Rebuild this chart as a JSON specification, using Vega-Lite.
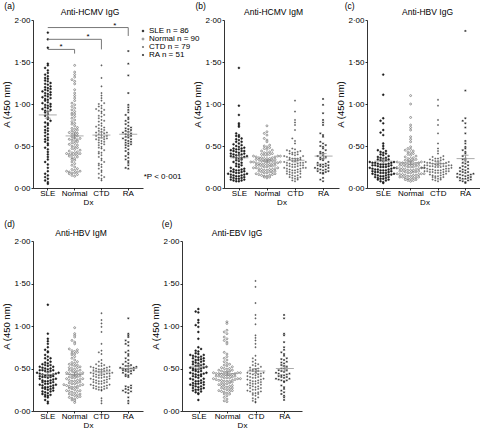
{
"$schema":"https://vega.github.io/schema/vega-lite/v6.json",
"padding":{"left":1,"top":1,"right":0,"bottom":0},
"background":"white",
"config":{"font":"Liberation Sans","view":{"stroke":null},
"axis":{"labelFontSize":8,"titleFontSize":8,"titleFontWeight":"normal","tickSize":2,"domainColor":"#000","tickColor":"#000","labelColor":"#000","titleColor":"#000","grid":false,"labelPadding":1,"domainWidth":0.8,"tickWidth":0.8},
"axisX":{"labelAngle":0,"titlePadding":1,"labelPadding":-1},
"axisY":{"titlePadding":2,"titleFontSize":9.5},
"text":{"font":"Liberation Sans","fontSize":8.5,"color":"#000"}},
"datasets":{
"pts":[
{"p":"a","g":"SLE","v":[1.85,1.77,1.67,1.48,1.46,1.43,1.40,1.37,1.35,1.33,1.31,1.30,1.28,1.27,1.25,1.24,1.23,1.21,1.20,1.19,1.18,1.17,1.16,1.15,1.14,1.13,1.12,1.11,1.10,1.09,1.08,1.07,1.06,1.05,1.04,1.02,1.01,1.00,0.99,0.98,0.97,0.96,0.95,0.94,0.93,0.92,0.91,0.90,0.88,0.86,0.84,0.82,0.80,0.78,0.77,0.75,0.73,0.71,0.69,0.68,0.66,0.64,0.62,0.60,0.58,0.57,0.55,0.53,0.51,0.48,0.46,0.43,0.40,0.37,0.34,0.31,0.28,0.24,0.20,0.17,0.15,0.13,0.11,0.09,0.07,0.05]},
{"p":"a","g":"Normal","v":[1.46,1.38,1.35,1.32,1.29,1.27,1.17,1.10,1.07,1.04,1.01,0.99,0.91,0.89,0.87,0.85,0.83,0.79,0.77,0.74,0.72,0.70,0.69,0.67,0.66,0.65,0.64,0.63,0.62,0.61,0.60,0.59,0.58,0.57,0.57,0.56,0.55,0.54,0.53,0.52,0.51,0.50,0.49,0.48,0.47,0.46,0.45,0.44,0.43,0.42,0.42,0.41,0.41,0.40,0.40,0.39,0.39,0.38,0.37,0.36,0.35,0.34,0.33,0.31,0.29,0.27,0.25,0.23,0.22,0.21,0.20,0.20,0.19,0.19,0.18,0.18,0.17,0.16,0.15,0.14,0.95,0.93,0.81,0.76,1.24,1.13,0.97,0.88,0.71,0.68]},
{"p":"a","g":"CTD","v":[1.46,1.31,1.21,1.13,1.10,1.07,1.04,1.01,0.98,0.95,0.93,0.91,0.89,0.87,0.85,0.83,0.81,0.79,0.77,0.75,0.73,0.71,0.70,0.69,0.68,0.67,0.66,0.65,0.64,0.63,0.62,0.61,0.60,0.59,0.58,0.57,0.56,0.55,0.54,0.52,0.51,0.49,0.47,0.45,0.43,0.41,0.39,0.37,0.35,0.33,0.31,0.29,0.27,0.25,0.23,0.21,0.19,0.17,0.15,0.13,0.11,0.09,0.66,0.62,0.58,0.72,0.86,0.94,1.00,0.48,0.80,0.92,0.97,0.74,0.53,0.60,0.42,0.28,0.12]},
{"p":"a","g":"RA","v":[1.63,1.48,1.34,1.13,0.99,0.96,0.93,0.90,0.87,0.84,0.82,0.80,0.78,0.76,0.74,0.72,0.71,0.70,0.69,0.68,0.67,0.66,0.65,0.64,0.63,0.62,0.61,0.60,0.59,0.58,0.57,0.56,0.55,0.54,0.53,0.52,0.51,0.50,0.48,0.46,0.44,0.42,0.40,0.38,0.36,0.34,0.32,0.30,0.27,0.24,0.23]},
{"p":"b","g":"SLE","v":[1.43,0.98,0.87,0.77,0.75,0.73,0.65,0.63,0.61,0.59,0.55,0.53,0.52,0.51,0.50,0.49,0.48,0.47,0.46,0.45,0.44,0.43,0.42,0.41,0.40,0.40,0.39,0.39,0.38,0.38,0.37,0.37,0.36,0.36,0.35,0.34,0.33,0.32,0.31,0.30,0.29,0.28,0.27,0.26,0.25,0.24,0.23,0.22,0.22,0.21,0.21,0.20,0.20,0.19,0.19,0.18,0.18,0.17,0.17,0.16,0.16,0.15,0.15,0.14,0.14,0.13,0.13,0.12,0.12,0.11,0.11,0.10,0.10,0.09,0.09,0.08,0.08,0.47,0.44,0.41,0.55,0.57,0.46,0.44,0.62,0.58]},
{"p":"b","g":"Normal","v":[0.74,0.67,0.65,0.63,0.59,0.57,0.55,0.51,0.50,0.49,0.48,0.47,0.46,0.45,0.44,0.43,0.42,0.42,0.41,0.40,0.40,0.39,0.39,0.38,0.38,0.37,0.37,0.36,0.36,0.35,0.35,0.34,0.34,0.33,0.33,0.32,0.32,0.31,0.31,0.30,0.30,0.29,0.29,0.28,0.28,0.27,0.27,0.26,0.26,0.25,0.25,0.24,0.24,0.23,0.23,0.22,0.22,0.21,0.21,0.20,0.20,0.19,0.19,0.18,0.18,0.17,0.17,0.16,0.16,0.15,0.15,0.14,0.14,0.13,0.13,0.12,0.35,0.31,0.27,0.24,0.29,0.33,0.36,0.38,0.26,0.22,0.19,0.28,0.30,0.34]},
{"p":"b","g":"CTD","v":[1.04,0.91,0.81,0.78,0.75,0.69,0.59,0.56,0.53,0.47,0.46,0.45,0.44,0.43,0.42,0.41,0.40,0.39,0.38,0.37,0.36,0.35,0.35,0.34,0.33,0.32,0.31,0.30,0.30,0.29,0.28,0.27,0.27,0.26,0.25,0.24,0.24,0.23,0.22,0.21,0.21,0.20,0.19,0.18,0.17,0.16,0.15,0.14,0.13,0.12,0.11,0.10,0.09,0.08,0.34,0.31,0.29,0.26,0.23,0.20,0.18,0.15,0.13,0.36,0.38,0.42,0.44,0.27,0.25,0.22,0.32,0.30,0.28,0.19,0.17,0.40,0.35,0.12,0.24]},
{"p":"b","g":"RA","v":[1.06,0.99,0.89,0.81,0.78,0.75,0.65,0.63,0.61,0.55,0.53,0.51,0.49,0.47,0.43,0.41,0.39,0.37,0.35,0.33,0.31,0.29,0.28,0.27,0.26,0.25,0.24,0.23,0.22,0.21,0.20,0.19,0.18,0.17,0.12,0.10,0.08,0.28,0.26,0.24,0.22,0.20,0.18,0.30,0.34,0.38,0.42,0.45,0.50,0.36,0.27]},
{"p":"c","g":"SLE","v":[1.35,1.11,0.83,0.80,0.77,0.69,0.66,0.63,0.53,0.50,0.47,0.45,0.43,0.41,0.39,0.37,0.36,0.35,0.34,0.33,0.32,0.31,0.30,0.30,0.29,0.29,0.28,0.28,0.27,0.27,0.26,0.26,0.25,0.25,0.24,0.24,0.23,0.23,0.22,0.22,0.21,0.21,0.20,0.20,0.19,0.19,0.18,0.18,0.17,0.17,0.16,0.16,0.15,0.15,0.14,0.14,0.13,0.13,0.12,0.12,0.11,0.11,0.10,0.10,0.09,0.08,0.07,0.06,0.25,0.28,0.31,0.34,0.36,0.38,0.40,0.42,0.44,0.22,0.19,0.16,0.24,0.27,0.30,0.33,0.21,0.18]},
{"p":"c","g":"Normal","v":[1.10,1.00,0.84,0.75,0.72,0.69,0.61,0.58,0.55,0.49,0.43,0.41,0.39,0.37,0.35,0.34,0.33,0.32,0.31,0.30,0.30,0.29,0.29,0.28,0.28,0.27,0.27,0.26,0.26,0.25,0.25,0.24,0.24,0.23,0.23,0.22,0.22,0.21,0.21,0.20,0.20,0.19,0.19,0.18,0.18,0.17,0.17,0.16,0.16,0.15,0.15,0.14,0.14,0.13,0.13,0.12,0.12,0.11,0.11,0.10,0.10,0.09,0.09,0.08,0.47,0.45,0.42,0.27,0.25,0.23,0.21,0.19,0.17,0.15,0.13,0.36,0.33,0.31,0.28,0.24,0.20,0.16,0.12,0.44,0.46,0.40,0.38,0.35,0.32,0.30]},
{"p":"c","g":"CTD","v":[1.05,0.98,0.81,0.75,0.65,0.53,0.47,0.44,0.41,0.37,0.35,0.34,0.33,0.32,0.31,0.30,0.29,0.29,0.28,0.27,0.27,0.26,0.26,0.25,0.25,0.24,0.24,0.23,0.22,0.22,0.21,0.21,0.20,0.20,0.19,0.18,0.17,0.16,0.15,0.14,0.13,0.12,0.11,0.10,0.09,0.08,0.36,0.33,0.30,0.28,0.26,0.23,0.20,0.18,0.15,0.12,0.34,0.31,0.27,0.24,0.21,0.19,0.16,0.13,0.10,0.38,0.32,0.29,0.25,0.22,0.18,0.14,0.30,0.27,0.23,0.19,0.35,0.26,0.20]},
{"p":"c","g":"RA","v":[1.87,1.16,0.83,0.80,0.77,0.72,0.65,0.56,0.53,0.49,0.47,0.45,0.43,0.41,0.35,0.33,0.31,0.29,0.27,0.25,0.23,0.21,0.19,0.18,0.17,0.16,0.15,0.14,0.13,0.12,0.11,0.10,0.09,0.08,0.07,0.06,0.19,0.17,0.15,0.13,0.11,0.09,0.30,0.26,0.22,0.34,0.38,0.24,0.20,0.16,0.12]},
{"p":"d","g":"SLE","v":[1.25,0.91,0.85,0.82,0.79,0.75,0.72,0.69,0.64,0.62,0.60,0.56,0.54,0.52,0.50,0.48,0.47,0.46,0.45,0.44,0.43,0.42,0.42,0.41,0.41,0.40,0.40,0.39,0.38,0.37,0.36,0.35,0.34,0.33,0.32,0.31,0.30,0.29,0.28,0.27,0.26,0.25,0.24,0.23,0.22,0.21,0.20,0.19,0.18,0.17,0.16,0.13,0.11,0.09,0.48,0.47,0.45,0.44,0.43,0.42,0.36,0.34,0.32,0.30,0.28,0.26,0.54,0.52,0.50,0.48,0.55,0.53,0.51,0.49,0.57,0.58,0.62,0.66,0.70,0.40,0.38,0.35,0.31,0.27,0.23,0.19]},
{"p":"d","g":"Normal","v":[0.98,0.91,0.89,0.87,0.83,0.81,0.79,0.73,0.72,0.71,0.70,0.69,0.68,0.67,0.66,0.64,0.62,0.60,0.58,0.56,0.55,0.54,0.53,0.52,0.51,0.50,0.49,0.48,0.47,0.46,0.45,0.44,0.43,0.42,0.41,0.40,0.39,0.38,0.37,0.36,0.35,0.34,0.33,0.32,0.31,0.30,0.29,0.28,0.27,0.26,0.25,0.24,0.23,0.22,0.21,0.20,0.19,0.18,0.17,0.16,0.15,0.14,0.13,0.12,0.10,0.30,0.33,0.36,0.39,0.42,0.45,0.48,0.51,0.54,0.57,0.32,0.28,0.24,0.20,0.16,0.35,0.31,0.27,0.23,0.19,0.40,0.44,0.47,0.38,0.29]},
{"p":"d","g":"CTD","v":[1.15,1.07,1.03,0.99,0.93,0.79,0.71,0.69,0.67,0.60,0.58,0.56,0.54,0.53,0.52,0.51,0.50,0.49,0.48,0.47,0.46,0.45,0.44,0.43,0.42,0.41,0.40,0.39,0.38,0.37,0.36,0.35,0.34,0.33,0.32,0.31,0.30,0.29,0.28,0.27,0.26,0.25,0.24,0.15,0.12,0.09,0.52,0.50,0.48,0.46,0.44,0.42,0.40,0.38,0.36,0.34,0.32,0.30,0.28,0.26,0.55,0.53,0.51,0.49,0.47,0.45,0.43,0.41,0.39,0.37,0.35,0.33,0.31,0.29,0.27,0.25,0.48,0.44,0.40]},
{"p":"d","g":"RA","v":[1.09,0.91,0.89,0.87,0.83,0.81,0.79,0.77,0.71,0.69,0.67,0.65,0.62,0.60,0.58,0.56,0.55,0.54,0.53,0.52,0.51,0.50,0.50,0.49,0.49,0.48,0.48,0.47,0.46,0.45,0.44,0.43,0.42,0.41,0.40,0.30,0.29,0.28,0.27,0.26,0.25,0.24,0.23,0.22,0.21,0.16,0.12,0.09,0.53,0.51,0.47]},
{"p":"e","g":"SLE","v":[1.20,1.17,1.16,1.07,1.04,1.01,0.99,0.93,0.85,0.75,0.73,0.71,0.67,0.65,0.63,0.61,0.59,0.58,0.56,0.55,0.54,0.53,0.52,0.51,0.50,0.49,0.48,0.47,0.46,0.45,0.44,0.43,0.42,0.41,0.40,0.38,0.36,0.35,0.34,0.33,0.32,0.31,0.30,0.29,0.28,0.27,0.26,0.25,0.24,0.23,0.22,0.21,0.20,0.13,0.55,0.53,0.51,0.49,0.47,0.45,0.43,0.41,0.39,0.37,0.35,0.33,0.31,0.29,0.27,0.25,0.60,0.62,0.64,0.66,0.70,0.57,0.50,0.44,0.38,0.32,0.58,0.60,0.62,0.64,0.66,0.68]},
{"p":"e","g":"Normal","v":[1.05,1.03,0.95,0.93,0.91,0.87,0.85,0.83,0.81,0.79,0.69,0.67,0.64,0.62,0.60,0.58,0.56,0.55,0.54,0.53,0.52,0.51,0.50,0.49,0.48,0.47,0.46,0.46,0.45,0.45,0.44,0.44,0.43,0.43,0.42,0.42,0.41,0.41,0.40,0.40,0.39,0.39,0.38,0.38,0.37,0.37,0.36,0.36,0.35,0.35,0.34,0.33,0.32,0.31,0.30,0.29,0.28,0.27,0.26,0.25,0.24,0.23,0.22,0.21,0.20,0.18,0.16,0.14,0.12,0.11,0.47,0.44,0.41,0.38,0.35,0.32,0.29,0.26,0.23,0.20,0.50,0.48,0.45,0.42,0.39,0.36,0.33,0.30,0.27,0.24]},
{"p":"e","g":"CTD","v":[1.53,1.46,1.27,1.13,1.09,1.02,0.89,0.86,0.83,0.79,0.75,0.65,0.62,0.60,0.56,0.54,0.52,0.50,0.49,0.48,0.47,0.46,0.45,0.44,0.43,0.42,0.41,0.40,0.39,0.38,0.37,0.36,0.35,0.34,0.33,0.32,0.31,0.30,0.29,0.28,0.27,0.26,0.25,0.24,0.23,0.22,0.21,0.20,0.18,0.16,0.14,0.12,0.10,0.55,0.51,0.47,0.43,0.39,0.35,0.31,0.27,0.23,0.19,0.15,0.11,0.53,0.49,0.45,0.41,0.37,0.33,0.29,0.25,0.21,0.58,0.44,0.40,0.36,0.32]},
{"p":"e","g":"RA","v":[1.13,1.09,0.91,0.89,0.81,0.75,0.72,0.69,0.65,0.62,0.60,0.58,0.56,0.54,0.52,0.50,0.48,0.47,0.45,0.44,0.43,0.42,0.41,0.40,0.39,0.38,0.37,0.36,0.30,0.28,0.26,0.24,0.22,0.20,0.18,0.16,0.13,0.44,0.42,0.40,0.38,0.36,0.53,0.57,0.61,0.67,0.48,0.46,0.35,0.34,0.50]}
],
"stats":[
{"p":"a","g":"SLE","m":0.87,"lo":0.83,"hi":0.91},{"p":"a","g":"Normal","m":0.62,"lo":0.585,"hi":0.655},{"p":"a","g":"CTD","m":0.63,"lo":0.595,"hi":0.665},{"p":"a","g":"RA","m":0.64,"lo":0.61,"hi":0.67},
{"p":"b","g":"SLE","m":0.36,"lo":0.335,"hi":0.385},{"p":"b","g":"Normal","m":0.32,"lo":0.305,"hi":0.335},{"p":"b","g":"CTD","m":0.33,"lo":0.31,"hi":0.35},{"p":"b","g":"RA","m":0.38,"lo":0.35,"hi":0.41},
{"p":"c","g":"SLE","m":0.32,"lo":0.295,"hi":0.345},{"p":"c","g":"Normal","m":0.30,"lo":0.28,"hi":0.32},{"p":"c","g":"CTD","m":0.29,"lo":0.27,"hi":0.31},{"p":"c","g":"RA","m":0.35,"lo":0.31,"hi":0.39},
{"p":"d","g":"SLE","m":0.43,"lo":0.405,"hi":0.455},{"p":"d","g":"Normal","m":0.43,"lo":0.41,"hi":0.45},{"p":"d","g":"CTD","m":0.46,"lo":0.435,"hi":0.485},{"p":"d","g":"RA","m":0.50,"lo":0.47,"hi":0.53},
{"p":"e","g":"SLE","m":0.52,"lo":0.49,"hi":0.55},{"p":"e","g":"Normal","m":0.44,"lo":0.42,"hi":0.46},{"p":"e","g":"CTD","m":0.47,"lo":0.44,"hi":0.50},{"p":"e","g":"RA","m":0.50,"lo":0.47,"hi":0.53}
],
"brk":[
{"a":"SLE","b":"RA","y":1.91,"y2":1.81,"s":"RA","sy":1.93},
{"a":"SLE","b":"CTD","y":1.77,"y2":1.65,"s":"CTD","sy":1.80},
{"a":"SLE","b":"Normal","y":1.65,"y2":1.60,"s":"Normal","sy":1.68}
]
},
"bounds":"full",
"spacing":13,
"vconcat":[
{"bounds":"flush","spacing":81,"hconcat":[
{"width":110,"height":168,"layer":[
{"data":{"name":"pts"},"transform":[{"filter":"datum.p=='a'"},{"flatten":["v"]},{"bin":{"step":0.035},"field":"v","as":"vb"},{"window":[{"op":"row_number","as":"k"}],"groupby":["g","vb"],"sort":[{"field":"v"}]}],
"mark":{"type":"point","strokeWidth":0.5,"opacity":1},
"encoding":{
"x":{"field":"g","type":"nominal","scale":{"domain":["SLE","Normal","CTD","RA"],"paddingInner":0,"paddingOuter":0.05},"axis":{"title":"Dx"}},
"xOffset":{"field":"k","type":"nominal","scale":{"domain":[12,10,8,6,4,2,1,3,5,7,9,11,13],"range":[-4,31]}},
"y":{"field":"v","type":"quantitative","scale":{"domain":[0,2]},"axis":{"title":"A (450 nm)","values":[0,0.25,0.5,0.75,1,1.25,1.5,1.75,2],"labelExpr":"replace(format(datum.value,'.2f'),'.','·')"}},
"shape":{"field":"g","type":"nominal","title":null,"scale":{"domain":["SLE","Normal","CTD","RA"],"range":["circle","circle","M-1,0H1M0,-1V1","M-1,0H1M0,-1V1M-0.7,-0.7L0.7,0.7M-0.7,0.7L0.7,-0.7"]},
"legend":{"orient":"none","legendX":106,"legendY":7,"labelFontSize":8,"rowPadding":-1,"labelOffset":2,"padding":0,"symbolStrokeWidth":0.6,"labelExpr":"datum.label=='SLE'?'SLE n = 86':datum.label=='Normal'?'Normal n = 90':datum.label=='CTD'?'CTD n = 79':'RA n = 51'"}},
"size":{"field":"g","type":"nominal","title":null,"scale":{"domain":["SLE","Normal","CTD","RA"],"range":[3.5,4.5,8,8]}},
"fill":{"field":"g","type":"nominal","title":null,"scale":{"domain":["SLE","Normal","CTD","RA"],"range":["#1a1a1a","#ffffff","transparent","transparent"]}},
"stroke":{"field":"g","type":"nominal","title":null,"scale":{"domain":["SLE","Normal","CTD","RA"],"range":["#1a1a1a","#444444","#222222","#222222"]}}}},
{"data":{"name":"stats"},"transform":[{"filter":"datum.p=='a'"}],"mark":{"type":"tick","size":18,"thickness":1,"color":"#888"},"encoding":{"x":{"field":"g","type":"nominal"},"y":{"field":"m","type":"quantitative","title":"A (450 nm)"}}},
{"data":{"name":"stats"},"transform":[{"filter":"datum.p=='a'"}],"mark":{"type":"errorbar","color":"#888","ticks":{"size":6,"color":"#888"}},"encoding":{"x":{"field":"g","type":"nominal"},"y":{"field":"lo","type":"quantitative","title":"A (450 nm)"},"y2":{"field":"hi"}}},
{"data":{"name":"brk"},"mark":{"type":"rule","color":"#777","strokeWidth":1},"encoding":{"x":{"field":"a","type":"nominal"},"x2":{"field":"b"},"y":{"field":"y","type":"quantitative","title":"A (450 nm)"}}},
{"data":{"name":"brk"},"mark":{"type":"rule","color":"#777","strokeWidth":1},"encoding":{"x":{"field":"b","type":"nominal"},"y":{"field":"y","type":"quantitative","title":"A (450 nm)"},"y2":{"field":"y2"}}},
{"data":{"name":"brk"},"mark":{"type":"text","text":"*","fontSize":8,"baseline":"middle"},"encoding":{"x":{"field":"s","type":"nominal","bandPosition":0},"y":{"field":"sy","type":"quantitative","title":"A (450 nm)"}}},
{"data":{"values":[{}]},"mark":{"type":"text","text":"*P < 0·001","fontSize":8,"align":"left","baseline":"middle","dx":2},"encoding":{"x":{"datum":"RA","type":"nominal","bandPosition":1},"y":{"datum":0.13,"type":"quantitative"}}},
{"data":{"values":[{}]},"mark":{"type":"text","text":"(a)","align":"left","baseline":"middle","dx":-30},"encoding":{"x":{"datum":"SLE","type":"nominal","bandPosition":0},"y":{"datum":2.17,"type":"quantitative"}}},
{"data":{"values":[{}]},"mark":{"type":"text","text":"Anti-HCMV IgG","align":"center","baseline":"middle","dx":2},"encoding":{"x":{"datum":"CTD","type":"nominal","bandPosition":0},"y":{"datum":2.09,"type":"quantitative"}}}
]},
{"bounds":"flush","spacing":28,"hconcat":[
{"width":115,"height":168,"layer":[
{"data":{"name":"pts"},"transform":[{"filter":"datum.p=='b'"},{"flatten":["v"]},{"bin":{"step":0.035},"field":"v","as":"vb"},{"window":[{"op":"row_number","as":"k"}],"groupby":["g","vb"],"sort":[{"field":"v"}]}],
"mark":{"type":"point","strokeWidth":0.5,"opacity":1},
"encoding":{
"x":{"field":"g","type":"nominal","scale":{"domain":["SLE","Normal","CTD","RA"],"paddingInner":0,"paddingOuter":0.05},"axis":{"title":"Dx"}},
"xOffset":{"field":"k","type":"nominal","scale":{"domain":[12,10,8,6,4,2,1,3,5,7,9,11,13],"range":[-4,32]}},
"y":{"field":"v","type":"quantitative","scale":{"domain":[0,2]},"axis":{"title":"A (450 nm)","values":[0,0.25,0.5,0.75,1,1.25,1.5,1.75,2],"labelExpr":"replace(format(datum.value,'.2f'),'.','·')"}},
"shape":{"field":"g","type":"nominal","title":null,"scale":{"domain":["SLE","Normal","CTD","RA"],"range":["circle","circle","M-1,0H1M0,-1V1","M-1,0H1M0,-1V1M-0.7,-0.7L0.7,0.7M-0.7,0.7L0.7,-0.7"]}},
"size":{"field":"g","type":"nominal","title":null,"scale":{"domain":["SLE","Normal","CTD","RA"],"range":[3.5,4.5,8,8]}},
"fill":{"field":"g","type":"nominal","title":null,"scale":{"domain":["SLE","Normal","CTD","RA"],"range":["#1a1a1a","#ffffff","transparent","transparent"]}},
"stroke":{"field":"g","type":"nominal","title":null,"scale":{"domain":["SLE","Normal","CTD","RA"],"range":["#1a1a1a","#444444","#222222","#222222"]}}}},
{"data":{"name":"stats"},"transform":[{"filter":"datum.p=='b'"}],"mark":{"type":"tick","size":18,"thickness":1,"color":"#888"},"encoding":{"x":{"field":"g","type":"nominal"},"y":{"field":"m","type":"quantitative","title":"A (450 nm)"}}},
{"data":{"name":"stats"},"transform":[{"filter":"datum.p=='b'"}],"mark":{"type":"errorbar","color":"#888","ticks":{"size":6,"color":"#888"}},"encoding":{"x":{"field":"g","type":"nominal"},"y":{"field":"lo","type":"quantitative","title":"A (450 nm)"},"y2":{"field":"hi"}}},
{"data":{"values":[{}]},"mark":{"type":"text","text":"(b)","align":"left","baseline":"middle","dx":-30},"encoding":{"x":{"datum":"SLE","type":"nominal","bandPosition":0},"y":{"datum":2.17,"type":"quantitative"}}},
{"data":{"values":[{}]},"mark":{"type":"text","text":"Anti-HCMV IgM","align":"center","baseline":"middle","dx":-8},"encoding":{"x":{"datum":"CTD","type":"nominal","bandPosition":0},"y":{"datum":2.09,"type":"quantitative"}}}
]},
{"width":115,"height":168,"layer":[
{"data":{"name":"pts"},"transform":[{"filter":"datum.p=='c'"},{"flatten":["v"]},{"bin":{"step":0.035},"field":"v","as":"vb"},{"window":[{"op":"row_number","as":"k"}],"groupby":["g","vb"],"sort":[{"field":"v"}]}],
"mark":{"type":"point","strokeWidth":0.5,"opacity":1},
"encoding":{
"x":{"field":"g","type":"nominal","scale":{"domain":["SLE","Normal","CTD","RA"],"paddingInner":0,"paddingOuter":0.1},"axis":{"title":"Dx"}},
"xOffset":{"field":"k","type":"nominal","scale":{"domain":[12,10,8,6,4,2,1,3,5,7,9,11,13],"range":[-4,31]}},
"y":{"field":"v","type":"quantitative","scale":{"domain":[0,2]},"axis":{"title":"A (450 nm)","values":[0,0.25,0.5,0.75,1,1.25,1.5,1.75,2],"labelExpr":"replace(format(datum.value,'.2f'),'.','·')"}},
"shape":{"field":"g","type":"nominal","title":null,"scale":{"domain":["SLE","Normal","CTD","RA"],"range":["circle","circle","M-1,0H1M0,-1V1","M-1,0H1M0,-1V1M-0.7,-0.7L0.7,0.7M-0.7,0.7L0.7,-0.7"]}},
"size":{"field":"g","type":"nominal","title":null,"scale":{"domain":["SLE","Normal","CTD","RA"],"range":[3.5,4.5,8,8]}},
"fill":{"field":"g","type":"nominal","title":null,"scale":{"domain":["SLE","Normal","CTD","RA"],"range":["#1a1a1a","#ffffff","transparent","transparent"]}},
"stroke":{"field":"g","type":"nominal","title":null,"scale":{"domain":["SLE","Normal","CTD","RA"],"range":["#1a1a1a","#444444","#222222","#222222"]}}}},
{"data":{"name":"stats"},"transform":[{"filter":"datum.p=='c'"}],"mark":{"type":"tick","size":18,"thickness":1,"color":"#888"},"encoding":{"x":{"field":"g","type":"nominal"},"y":{"field":"m","type":"quantitative","title":"A (450 nm)"}}},
{"data":{"name":"stats"},"transform":[{"filter":"datum.p=='c'"}],"mark":{"type":"errorbar","color":"#888","ticks":{"size":6,"color":"#888"}},"encoding":{"x":{"field":"g","type":"nominal"},"y":{"field":"lo","type":"quantitative","title":"A (450 nm)"},"y2":{"field":"hi"}}},
{"data":{"values":[{}]},"mark":{"type":"text","text":"(c)","align":"left","baseline":"middle","dx":-25},"encoding":{"x":{"datum":"SLE","type":"nominal","bandPosition":0},"y":{"datum":2.17,"type":"quantitative"}}},
{"data":{"values":[{}]},"mark":{"type":"text","text":"Anti-HBV IgG","align":"center","baseline":"middle","dx":3},"encoding":{"x":{"datum":"CTD","type":"nominal","bandPosition":0},"y":{"datum":2.09,"type":"quantitative"}}}
]}
]}
]},
{"bounds":"flush","spacing":39,"hconcat":[
{"width":110,"height":170,"layer":[
{"data":{"name":"pts"},"transform":[{"filter":"datum.p=='d'"},{"flatten":["v"]},{"bin":{"step":0.035},"field":"v","as":"vb"},{"window":[{"op":"row_number","as":"k"}],"groupby":["g","vb"],"sort":[{"field":"v"}]}],
"mark":{"type":"point","strokeWidth":0.5,"opacity":1},
"encoding":{
"x":{"field":"g","type":"nominal","scale":{"domain":["SLE","Normal","CTD","RA"],"paddingInner":0,"paddingOuter":0.05},"axis":{"title":"Dx"}},
"xOffset":{"field":"k","type":"nominal","scale":{"domain":[12,10,8,6,4,2,1,3,5,7,9,11,13],"range":[-4,31]}},
"y":{"field":"v","type":"quantitative","scale":{"domain":[0,2]},"axis":{"title":"A (450 nm)","values":[0,0.25,0.5,0.75,1,1.25,1.5,1.75,2],"labelExpr":"replace(format(datum.value,'.2f'),'.','·')"}},
"shape":{"field":"g","type":"nominal","title":null,"scale":{"domain":["SLE","Normal","CTD","RA"],"range":["circle","circle","M-1,0H1M0,-1V1","M-1,0H1M0,-1V1M-0.7,-0.7L0.7,0.7M-0.7,0.7L0.7,-0.7"]}},
"size":{"field":"g","type":"nominal","title":null,"scale":{"domain":["SLE","Normal","CTD","RA"],"range":[3.5,4.5,8,8]}},
"fill":{"field":"g","type":"nominal","title":null,"scale":{"domain":["SLE","Normal","CTD","RA"],"range":["#1a1a1a","#ffffff","transparent","transparent"]}},
"stroke":{"field":"g","type":"nominal","title":null,"scale":{"domain":["SLE","Normal","CTD","RA"],"range":["#1a1a1a","#444444","#222222","#222222"]}}}},
{"data":{"name":"stats"},"transform":[{"filter":"datum.p=='d'"}],"mark":{"type":"tick","size":18,"thickness":1,"color":"#888"},"encoding":{"x":{"field":"g","type":"nominal"},"y":{"field":"m","type":"quantitative","title":"A (450 nm)"}}},
{"data":{"name":"stats"},"transform":[{"filter":"datum.p=='d'"}],"mark":{"type":"errorbar","color":"#888","ticks":{"size":6,"color":"#888"}},"encoding":{"x":{"field":"g","type":"nominal"},"y":{"field":"lo","type":"quantitative","title":"A (450 nm)"},"y2":{"field":"hi"}}},
{"data":{"values":[{}]},"mark":{"type":"text","text":"(d)","align":"left","baseline":"middle","dx":-30},"encoding":{"x":{"datum":"SLE","type":"nominal","bandPosition":0},"y":{"datum":2.2,"type":"quantitative"}}},
{"data":{"values":[{}]},"mark":{"type":"text","text":"Anti-HBV IgM","align":"center","baseline":"middle","dx":-7},"encoding":{"x":{"datum":"CTD","type":"nominal","bandPosition":0},"y":{"datum":2.1,"type":"quantitative"}}}
]},
{"width":120,"height":170,"layer":[
{"data":{"name":"pts"},"transform":[{"filter":"datum.p=='e'"},{"flatten":["v"]},{"bin":{"step":0.035},"field":"v","as":"vb"},{"window":[{"op":"row_number","as":"k"}],"groupby":["g","vb"],"sort":[{"field":"v"}]}],
"mark":{"type":"point","strokeWidth":0.5,"opacity":1},
"encoding":{
"x":{"field":"g","type":"nominal","scale":{"domain":["SLE","Normal","CTD","RA"],"paddingInner":0,"paddingOuter":0.1},"axis":{"title":"Dx"}},
"xOffset":{"field":"k","type":"nominal","scale":{"domain":[12,10,8,6,4,2,1,3,5,7,9,11,13],"range":[-4,32]}},
"y":{"field":"v","type":"quantitative","scale":{"domain":[0,2]},"axis":{"title":"A (450 nm)","values":[0,0.25,0.5,0.75,1,1.25,1.5,1.75,2],"labelExpr":"replace(format(datum.value,'.2f'),'.','·')"}},
"shape":{"field":"g","type":"nominal","title":null,"scale":{"domain":["SLE","Normal","CTD","RA"],"range":["circle","circle","M-1,0H1M0,-1V1","M-1,0H1M0,-1V1M-0.7,-0.7L0.7,0.7M-0.7,0.7L0.7,-0.7"]}},
"size":{"field":"g","type":"nominal","title":null,"scale":{"domain":["SLE","Normal","CTD","RA"],"range":[3.5,4.5,8,8]}},
"fill":{"field":"g","type":"nominal","title":null,"scale":{"domain":["SLE","Normal","CTD","RA"],"range":["#1a1a1a","#ffffff","transparent","transparent"]}},
"stroke":{"field":"g","type":"nominal","title":null,"scale":{"domain":["SLE","Normal","CTD","RA"],"range":["#1a1a1a","#444444","#222222","#222222"]}}}},
{"data":{"name":"stats"},"transform":[{"filter":"datum.p=='e'"}],"mark":{"type":"tick","size":18,"thickness":1,"color":"#888"},"encoding":{"x":{"field":"g","type":"nominal"},"y":{"field":"m","type":"quantitative","title":"A (450 nm)"}}},
{"data":{"name":"stats"},"transform":[{"filter":"datum.p=='e'"}],"mark":{"type":"errorbar","color":"#888","ticks":{"size":6,"color":"#888"}},"encoding":{"x":{"field":"g","type":"nominal"},"y":{"field":"lo","type":"quantitative","title":"A (450 nm)"},"y2":{"field":"hi"}}},
{"data":{"values":[{}]},"mark":{"type":"text","text":"(e)","align":"left","baseline":"middle","dx":-23},"encoding":{"x":{"datum":"SLE","type":"nominal","bandPosition":0},"y":{"datum":2.2,"type":"quantitative"}}},
{"data":{"values":[{}]},"mark":{"type":"text","text":"Anti-EBV IgG","align":"center","baseline":"middle","dx":-5},"encoding":{"x":{"datum":"CTD","type":"nominal","bandPosition":0},"y":{"datum":2.1,"type":"quantitative"}}}
]}
]}
]
}
